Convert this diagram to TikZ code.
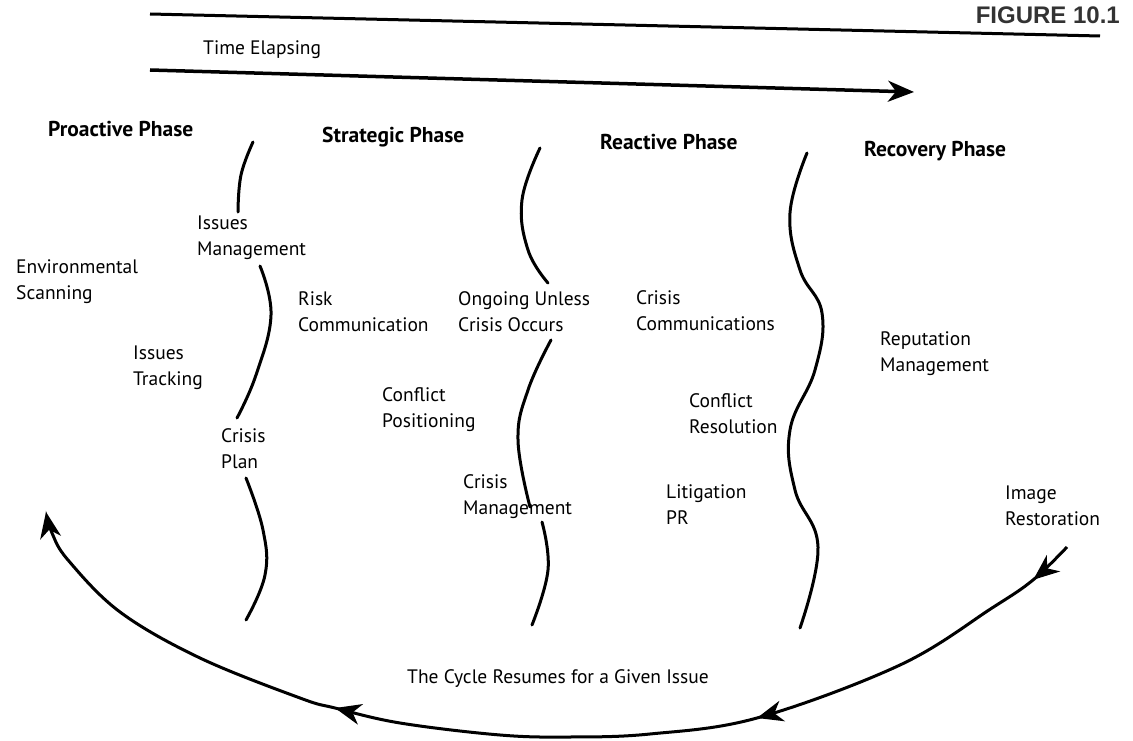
\documentclass[tikz,border=0pt]{standalone}
\usepackage{fontspec}
\setmainfont{PT Sans}
\newfontfamily\figfont{Liberation Sans}
\usetikzlibrary{arrows.meta,decorations.markings}
\begin{document}
\begin{tikzpicture}[x=1pt,y=-1pt,
  lbl/.style={anchor=north west,inner sep=0pt,align=left,font=\fontsize{19.5}{26}\selectfont},
  phase/.style={anchor=north west,inner sep=0pt,font=\fontsize{21.5}{24}\selectfont\bfseries},
  wave/.style={line width=3pt,line cap=round},
  bigtip/.tip={Stealth[length=26pt,width=21pt,inset=8pt]}]
\useasboundingbox (0,0) rectangle (1133,741);
% header
\node[anchor=base east,inner sep=0pt,text=black!80,font=\figfont\fontsize{24}{24}\selectfont\bfseries] (fig) at (1120,24) {FIGURE 10.1};
\coordinate (r1a) at (150,14);
\coordinate (r1b) at (1100,36);
\draw[line width=3pt] (r1a) -- (r1b);
\node[lbl] (time) at (203,40) {Time Elapsing};
\coordinate (t1) at (150,70);
\coordinate (t2) at (914,92);
\draw[line width=3.5pt,-{bigtip}] (t1) -- (t2);
% phases
\node[phase] (pro) at (48,121) {Proactive Phase};
\node[phase] (str) at (322,127) {Strategic Phase};
\node[phase] (rea) at (600,134) {Reactive Phase};
\node[phase] (rec) at (864,141) {Recovery Phase};
% wavy dividers
\draw[wave] plot[smooth,tension=0.7] coordinates {(253,142) (241,175) (238,212)};
\draw[wave] plot[smooth,tension=0.7] coordinates {(260,266) (271,315) (256,375) (237,418)};
\draw[wave] plot[smooth,tension=0.7] coordinates {(246,478) (263,530) (265,575) (246,620)};
\draw[wave] plot[smooth,tension=0.7] coordinates {(540,148) (522,200) (528,250) (548,283)};
\draw[wave] plot[smooth,tension=0.7] coordinates {(551,340) (528,390) (518,440) (530,507)};
\draw[wave] plot[smooth,tension=0.7] coordinates {(542,522) (548,570) (532,625)};
\draw[wave] plot[smooth,tension=0.7] coordinates {(807,153) (790,213) (800,270) (822,313) (815,370) (790,430) (795,490) (818,547) (800,628)};
% labels
\node[lbl] (env) at (16,259) {Environmental\\Scanning};
\node[lbl] (itr) at (133,346) {Issues\\Tracking};
\node[lbl] (ima) at (197,216) {Issues\\Management};
\node[lbl] (cpl) at (221,428) {Crisis\\Plan};
\node[lbl] (rcm) at (298,291) {Risk\\Communication};
\node[lbl] (cpo) at (382,387) {Conflict\\Positioning};
\node[lbl] (ong) at (458,291) {Ongoing Unless\\Crisis Occurs};
\node[lbl] (cma) at (463,474) {Crisis\\Management};
\node[lbl] (ccm) at (636,290) {Crisis\\Communications};
\node[lbl] (cre) at (689,393) {Conflict\\Resolution};
\node[lbl] (lpr) at (666,484) {Litigation\\PR};
\node[lbl] (rep) at (880,331) {Reputation\\Management};
\node[lbl] (ire) at (1005,486) {Image\\Restoration};
\node[lbl,anchor=north] (cyc) at (558,669) {The Cycle Resumes for a Given Issue};
% cycle arrow
\coordinate (c0) at (1067,547);
\coordinate (c9) at (46,512);
\draw[wave,line cap=butt,-{bigtip},postaction={decorate},
  decoration={markings,
    mark=at position 0.041 with {\arrow{bigtip}},
    mark=at position 0.312 with {\arrow{bigtip}},
    mark=at position 0.683 with {\arrow{bigtip}}}]
  plot[smooth,tension=0.6] coordinates {(c0) (1033,580) (992,608) (900,665) (757,718) (650,734) (570,737) (500,735) (400,723) (335,708) (300,698) (200,658) (120,612) (68,560) (52,533) (c9)};
\end{tikzpicture}
\end{document}
